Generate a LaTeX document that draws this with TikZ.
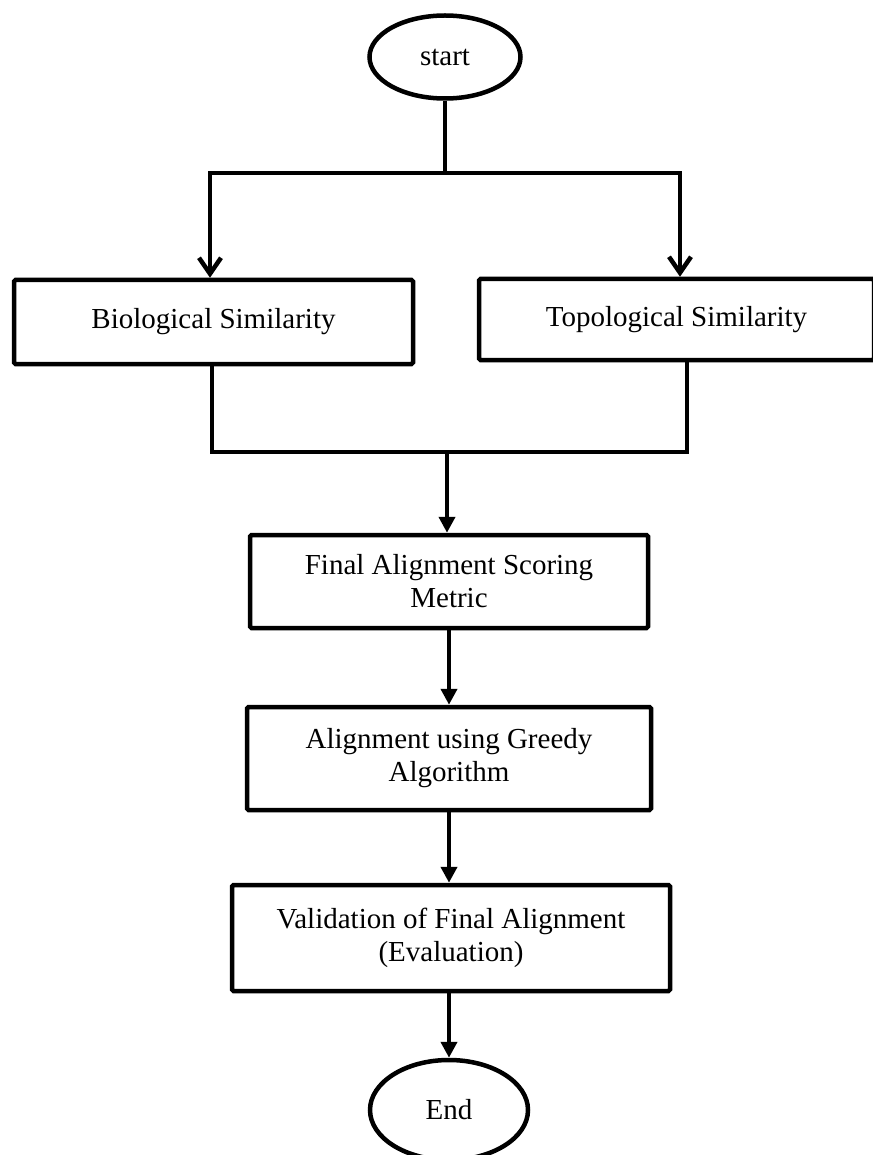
\documentclass[tikz,border=0pt]{standalone}
\usepackage{fontspec}
\setmainfont{Liberation Serif}
\usetikzlibrary{shapes.geometric,arrows.meta}

\tikzset{
	flowbox/.style={draw, line width=4.5pt, rounded corners=1.5pt, align=center, inner sep=0pt,
		font=\fontsize{29}{33}\selectfont},
	terminal/.style={draw, ellipse, line width=4.5pt, inner sep=0pt,
		font=\fontsize{29}{33}\selectfont},
	link/.style={line width=4.5pt},
	openarrow/.style={link, -{Straight Barb[length=16pt,width=22pt]}},
	solidarrow/.style={link, -{Triangle[length=16pt,width=16pt]}}
}

\begin{document}
\begin{tikzpicture}[x=1pt, y=-1pt]
			%%%%% START %%%%%
			\useasboundingbox (0, 0) rectangle (872, 1155);
			
			\node[terminal, minimum width=151pt, minimum height=83pt] (start) at (445, 57) {start};
			
			\node[flowbox, minimum width=399pt, minimum height=84pt] (bio) at (213.5, 322) {Biological Similarity};
			\node[flowbox, minimum width=395pt, minimum height=81pt] (topo) at (676.5, 319.5) {Topological Similarity};
			
			\node[flowbox, minimum width=398pt, minimum height=93pt] (final) at (449, 581.5) {Final Alignment Scoring\\Metric};
			\node[flowbox, minimum width=404pt, minimum height=103pt] (greedy) at (449, 758.5) {Alignment using Greedy\\Algorithm};
			\node[flowbox, minimum width=438pt, minimum height=106pt] (valid) at (451, 938) {Validation of Final Alignment\\(Evaluation)};
			
			\node[terminal, minimum width=158pt, minimum height=100pt] (end) at (449, 1110) {End};
			
			% split into the two similarities
			\coordinate (split) at (445, 173);
			\draw[link] (start) -- (split);
			\draw[openarrow] (split) -| ([xshift=-3.5pt]bio.north);
			\draw[openarrow] (split) -| ([xshift=3.5pt]topo.north);
			
			% merge them again
			\coordinate (merge) at (447, 452);
			\draw[link] ([xshift=-1.5pt]bio.south) |- (merge) -| ([xshift=10.5pt]topo.south);
			\draw[solidarrow] (merge) -- (merge |- final.north);
			
			\draw[solidarrow] (final) -- (greedy);
			\draw[solidarrow] (greedy.south) -- (greedy.south |- valid.north);
			\draw[solidarrow] (end.north |- valid.south) -- (end);
			
			%%%%% END %%%%%
\end{tikzpicture}
\end{document}
